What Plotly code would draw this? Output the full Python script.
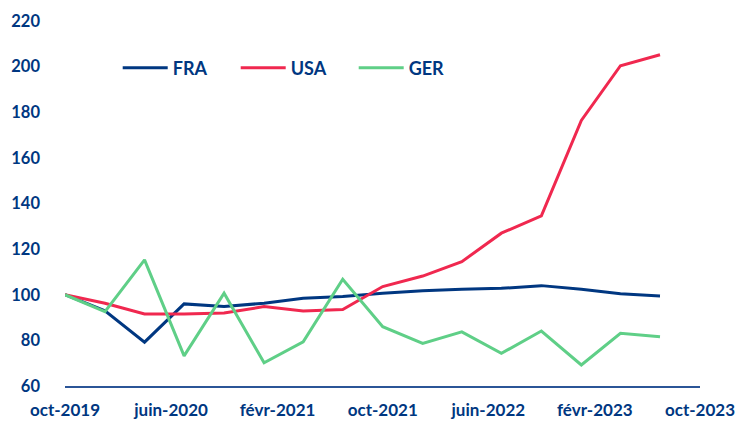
import plotly.graph_objects as go

dates = ["2019-10-01", "2020-01-01", "2020-04-01", "2020-07-01",
         "2020-10-01", "2021-01-01", "2021-04-01", "2021-07-01",
         "2021-10-01", "2022-01-01", "2022-04-01", "2022-07-01",
         "2022-10-01", "2023-01-01", "2023-04-01", "2023-07-01"]

fra = [100, 93, 79.2, 96, 94.8, 96.3, 98.5, 99.2,
       100.7, 101.8, 102.4, 102.8, 104, 102.4, 100.4, 99.5]
usa = [100, 96.3, 91.6, 91.6, 92, 94.8, 92.9, 93.5,
       103.6, 108.2, 114.5, 127, 134.6, 176.4, 200.4, 205.2]
ger = [100, 92.6, 115.3, 73.2, 100.7, 70.2, 79.4, 106.8,
       86, 78.7, 83.7, 74.3, 84.1, 69.2, 83.1, 81.6]

tick_dates = ["2019-10-01", "2020-06-01", "2021-02-01", "2021-10-01",
              "2022-06-01", "2023-02-01", "2023-10-01"]
tick_labels = ["oct-2019", "juin-2020", "févr-2021", "oct-2021",
               "juin-2022", "févr-2023", "oct-2023"]

navy = "#003781"

fig = go.Figure()
fig.add_trace(go.Scatter(x=dates, y=fra, name="FRA", mode="lines",
                         line=dict(color=navy, width=3)))
fig.add_trace(go.Scatter(x=dates, y=usa, name="USA", mode="lines",
                         line=dict(color="#F0284F", width=3)))
fig.add_trace(go.Scatter(x=dates, y=ger, name="GER", mode="lines",
                         line=dict(color="#5FCF87", width=3)))

fig.update_layout(
    width=736, height=421,
    margin=dict(l=65, r=36, t=21, b=35),
    paper_bgcolor="white", plot_bgcolor="white",
    font=dict(family="Lato", size=17, color=navy),
    showlegend=True,
    legend=dict(orientation="h", x=0.083, y=0.871, xanchor="left", yanchor="middle",
                font=dict(size=18, color=navy, weight="bold"),
                itemwidth=45, entrywidth=58, tracegroupgap=0,
                bgcolor="rgba(0,0,0,0)"),
)
fig.update_xaxes(type="date", range=["2019-10-01", "2023-10-01"],
                 tickvals=tick_dates, ticktext=tick_labels,
                 showgrid=False, zeroline=False, automargin=False,
                 showline=True, linecolor="#2B5597", linewidth=2,
                 ticks="", ticklabelstandoff=8,
                 tickfont=dict(size=17, color=navy, weight="bold"))
fig.update_yaxes(range=[60, 220], tickvals=list(range(60, 221, 20)),
                 showgrid=False, zeroline=False, showline=False, automargin=False,
                 ticks="", ticklabelstandoff=24,
                 tickfont=dict(size=16.5, color=navy, weight="bold"))

# page body has a default 8px margin, drop it so the figure sits at 0,0
fig.write_html("out.html", config={"displayModeBar": False},
               post_script="document.body.style.margin='0';")
